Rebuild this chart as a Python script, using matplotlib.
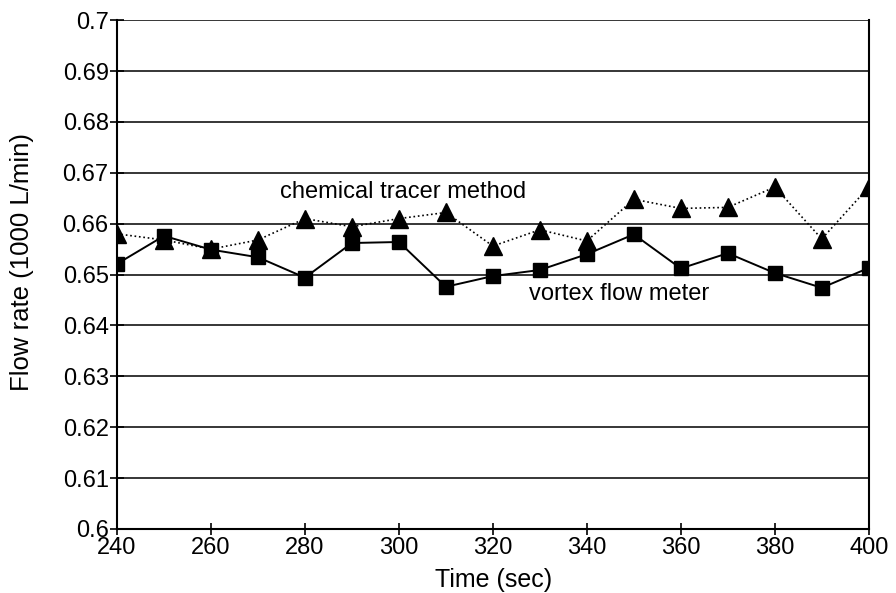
import matplotlib.pyplot as plt

plt.rcParams['font.family'] = ['Liberation Sans', 'DejaVu Sans']

# Data
time = [240, 250, 260, 270, 280, 290, 300, 310, 320, 330, 340, 350, 360, 370, 380, 390, 400]
chemical_tracer = [0.6580, 0.6568, 0.6550, 0.6568, 0.6610, 0.6594, 0.6610, 0.6622, 0.6556,
                   0.6588, 0.6566, 0.6648, 0.6630, 0.6632, 0.6672, 0.6570, 0.6672]
vortex_meter = [0.6521, 0.6576, 0.6549, 0.6534, 0.6494, 0.6562, 0.6564, 0.6476, 0.6497,
                0.6509, 0.6540, 0.6579, 0.6512, 0.6542, 0.6503, 0.6474, 0.6513]
yticks = [0.6, 0.61, 0.62, 0.63, 0.64, 0.65, 0.66, 0.67, 0.68, 0.69, 0.7]
xticks = [240, 260, 280, 300, 320, 340, 360, 380, 400]

fig = plt.figure(figsize=(8.96, 5.93), dpi=100)
ax = fig.add_axes([0.1306, 0.108, 0.839, 0.858])

# Horizontal gridlines
ax.grid(axis='y', color='black', linewidth=1.1)
ax.set_axisbelow(True)

ax.plot(time, chemical_tracer, color='black', linestyle=':', linewidth=1.2,
        marker='^', markersize=13)
ax.plot(time, vortex_meter, color='black', linestyle='-', linewidth=1.4,
        marker='s', markersize=9.5)

ax.text(274.7, 0.6662, 'chemical tracer method', fontsize=17, va='center', ha='left')
ax.text(327.6, 0.6462, 'vortex flow meter', fontsize=17, va='center', ha='left')

ax.set_xlim(240, 400)
ax.set_ylim(0.6, 0.7)
ax.set_xticks(xticks)
ax.set_yticks(yticks)
ax.set_yticklabels([f'{v:g}' for v in yticks])
ax.tick_params(axis='both', labelsize=17, color='black', width=1.2)
ax.tick_params(axis='x', direction='inout', length=8, pad=2)
ax.tick_params(axis='y', direction='inout', length=10, pad=1)

for s in ['left', 'right', 'bottom']:
    ax.spines[s].set_linewidth(1.5)
ax.spines['top'].set_visible(False)

ax.set_xlabel('Time (sec)', fontsize=18)
ax.set_ylabel('Flow rate (1000 L/min)', fontsize=18.5)
ax.xaxis.set_label_coords(0.501, -0.1, transform=ax.transAxes)
ax.yaxis.set_label_coords(-0.126, 0.525, transform=ax.transAxes)
ax.xaxis.label.set_va('center')
ax.yaxis.label.set_va('center')

fig.savefig('out.png', dpi=100)
